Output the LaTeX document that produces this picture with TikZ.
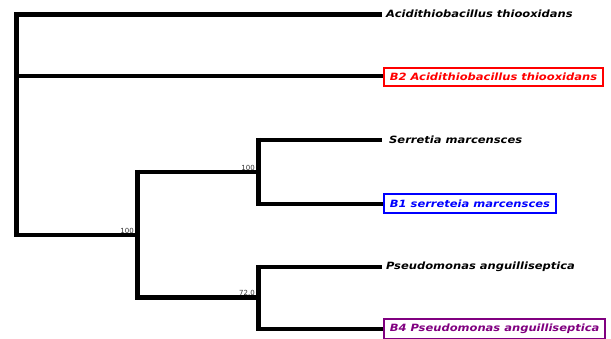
\documentclass[tikz,border=0pt]{standalone}
\usepackage{fontspec}
\setmainfont{DejaVu Sans}
\newfontfamily\leaffont[FakeStretch=1.15]{DejaVu Sans}
\definecolor{tpurple}{RGB}{128,0,128}
\begin{document}
\begin{tikzpicture}[x=1pt,y=-1pt,
  br/.style={line width=4.5pt,line cap=butt},
  vbr/.style={line width=5.5pt,line cap=butt,shorten <=-2.25pt,shorten >=-2.25pt},
  leaf/.style={anchor=west,font=\leaffont\fontsize{10}{11}\selectfont\bfseries\itshape,inner sep=1pt},
  boxleaf/.style={leaf,draw=#1,text=#1,line width=1.8pt,inner xsep=6pt,inner ysep=5.5pt},
  boot/.style={font=\fontsize{7}{8}\selectfont,text=black!80,anchor=south east,inner sep=0.5pt}]
\useasboundingbox (0,0) rectangle (611,338);
% internal nodes
\coordinate (r0) at (16.5,14.5);
\coordinate (r1) at (16.5,76);
\coordinate (r2) at (16.5,235);
\coordinate (a) at (137.5,235);
\coordinate (a1) at (137.5,172);
\coordinate (a2) at (137.5,297.5);
\coordinate (b) at (258.5,172);
\coordinate (b1) at (258.5,140);
\coordinate (b2) at (258.5,204);
\coordinate (c) at (258.5,297.5);
\coordinate (c1) at (258.5,267);
\coordinate (c2) at (258.5,329);
\coordinate (e1) at (382,14.5);
\coordinate (e3) at (382,140);
\coordinate (e5) at (382,267);
% leaves
\node[leaf] (l1) at (385,14) {Acidithiobacillus thiooxidans};
\node[boxleaf=red] (l2) at (383,77) {B2 Acidithiobacillus thiooxidans};
\node[leaf] (l3) at (388,140) {Serretia marcensces};
\node[boxleaf=blue] (l4) at (383,203.5) {B1 serreteia marcensces};
\node[boxleaf=tpurple] (l6) at (383,329) {B4 Pseudomonas anguilliseptica};
\node[leaf] (l5) at (385,267) {Pseudomonas anguilliseptica};
% branches
\draw[br] (r0) -- (e1);
\draw[br] (r1) -- (r1 -| l2.west);
\draw[br] (r2) -- (a);
\draw[br] (a1) -- (b);
\draw[br] (b1) -- (e3);
\draw[br] (b2) -- (b2 -| l4.west);
\draw[br] (a2) -- (c);
\draw[br] (c1) -- (e5);
\draw[br] (c2) -- (c2 -| l6.west);
\draw[vbr] (r0) -- (r2);
\draw[vbr] (a1) -- (a2);
\draw[vbr] (b1) -- (b2);
\draw[vbr] (c1) -- (c2);
% bootstrap
\node[boot] (s1) at (134.5,234) {100};
\node[boot] (s2) at (255.5,171) {100};
\node[boot] (s3) at (255.5,296.5) {72.0};
\end{tikzpicture}
\end{document}
